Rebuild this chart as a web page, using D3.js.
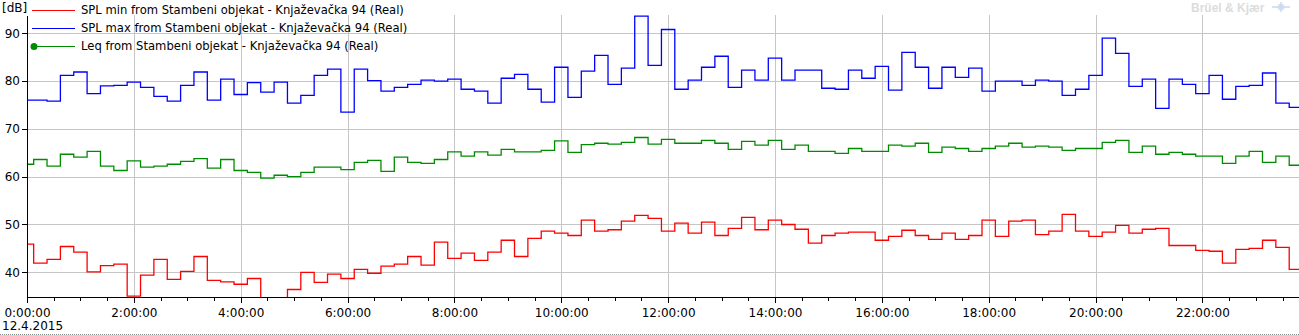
<!DOCTYPE html>
<html lang="sr">
<head>
<meta charset="UTF-8">
<title>Stambeni objekat - Knjaževačka 94</title>
<style>
  body { margin: 0; background: #fff; }
  svg { display: block; font-family: "DejaVu Sans", sans-serif; font-size: 12px; }
</style>
</head>
<body>
<svg id="chart"></svg>
<script src="https://cdn.jsdelivr.net/npm/d3@7/dist/d3.min.js"></script>
<script>
// 15-minutne vrijednosti, 12.4.2015, od 0:00 do 23:45 [dB]
const splMin = [
  45.9, 41.9, 42.7, 45.4, 44.2, 40.1, 41.4, 41.7, 35.0, 39.4,
  42.7, 38.5, 40.2, 43.3, 38.3, 38.0, 37.5, 38.7, 33.8, 33.5,
  36.4, 40.0, 37.9, 39.6, 38.7, 40.6, 39.8, 41.3, 41.7, 43.3,
  41.5, 46.3, 42.9, 44.0, 42.5, 44.2, 46.7, 43.3, 47.1, 48.6,
  48.2, 47.7, 50.9, 48.6, 48.9, 50.7, 51.9, 51.3, 48.6, 50.3,
  48.2, 50.5, 47.7, 49.2, 51.5, 48.9, 50.9, 50.0, 49.0, 46.1,
  47.7, 48.2, 48.4, 48.4, 46.7, 47.5, 48.8, 47.7, 46.9, 48.2,
  46.9, 47.7, 50.9, 47.5, 50.7, 50.9, 47.9, 48.6, 52.1, 48.6,
  47.5, 48.4, 49.8, 48.2, 49.0, 49.2, 45.6, 45.6, 44.6, 44.4,
  41.9, 44.8, 45.0, 46.7, 45.2, 40.6
];
const splMax = [
  76.0, 76.0, 75.8, 81.2, 81.9, 77.4, 79.0, 79.1, 79.8, 78.7,
  76.8, 75.8, 79.1, 81.9, 76.0, 80.4, 77.2, 79.7, 77.7, 79.8,
  75.4, 77.0, 81.2, 82.5, 73.5, 82.5, 80.1, 77.9, 78.7, 79.3,
  80.2, 80.0, 80.4, 78.3, 77.9, 75.4, 80.6, 81.4, 78.3, 75.6,
  82.9, 76.6, 82.1, 85.4, 79.3, 82.7, 93.6, 83.3, 90.8, 78.3,
  80.2, 82.9, 85.2, 78.7, 82.3, 80.2, 84.8, 80.2, 82.3, 82.3,
  78.5, 78.3, 82.3, 80.6, 83.1, 78.1, 86.0, 82.9, 78.5, 82.9,
  80.8, 82.7, 77.9, 80.0, 80.0, 79.1, 80.2, 80.0, 77.0, 78.3,
  81.2, 89.0, 85.8, 78.9, 80.4, 74.3, 80.4, 79.3, 77.4, 81.2,
  76.2, 78.9, 79.1, 81.7, 75.4, 74.5
];
const leq = [
  62.6, 63.6, 62.2, 64.7, 64.1, 65.3, 62.2, 61.3, 63.3, 62.0,
  62.2, 62.6, 63.2, 63.8, 61.8, 63.6, 61.3, 60.9, 59.7, 60.3,
  60.0, 60.9, 62.0, 62.0, 61.5, 63.0, 63.4, 61.1, 64.1, 63.0,
  62.8, 63.6, 65.2, 64.3, 65.2, 64.5, 65.7, 65.2, 65.2, 65.5,
  67.5, 65.1, 66.7, 67.0, 66.8, 67.2, 68.2, 66.8, 67.8, 67.0,
  67.0, 67.6, 67.0, 65.7, 67.4, 66.6, 67.6, 65.7, 66.6, 65.3,
  65.3, 64.9, 65.9, 65.3, 65.3, 66.6, 66.4, 67.0, 65.1, 66.2,
  65.9, 65.3, 65.9, 66.4, 67.0, 66.2, 66.4, 66.2, 65.5, 65.9,
  65.9, 67.2, 67.6, 65.1, 66.4, 64.7, 65.1, 64.7, 64.3, 64.3,
  62.8, 64.3, 65.3, 63.0, 64.3, 62.4
];
const yTicks = [40, 50, 60, 70, 80, 90];
const seriesNames = [
  "SPL min from Stambeni objekat - Knjaževačka 94 (Real)",
  "SPL max from Stambeni objekat - Knjaževačka 94 (Real)",
  "Leq from Stambeni objekat - Knjaževačka 94 (Real)"
];
const seriesColors = ["#ff0000", "#0000ff", "#008c00"];

const W = 1299, H = 335;
const plotLeft = 27, plotRight = 1299, plotTop = 15, plotBottom = 297;

const svg = d3.select("#chart").attr("width", W).attr("height", H);

const times = d3.range(splMin.length).map(i => new Date(2015, 3, 12, 0, i * 15));
const tEnd = new Date(2015, 3, 12, 23, 48, 30);

const x = d3.scaleTime().domain([times[0], tEnd]).range([plotLeft, plotRight]);
const y = d3.scaleLinear().domain([34.83, 93.83]).range([plotBottom, plotTop]);

const crisp = v => Math.round(v) + 0.5;
const majorTicks = d3.timeHour.every(2).range(times[0], tEnd);

// mreža
const grid = svg.append("g").attr("stroke", "#c6c6c6").attr("shape-rendering", "crispEdges");
grid.selectAll("line.h").data(yTicks).enter().append("line")
  .attr("x1", plotLeft).attr("x2", plotRight)
  .attr("y1", d => crisp(y(d))).attr("y2", d => crisp(y(d)));
grid.selectAll("line.v").data(majorTicks.slice(1)).enter().append("line")
  .attr("y1", plotTop).attr("y2", plotBottom)
  .attr("x1", d => crisp(x(d))).attr("x2", d => crisp(x(d)));

// serije
svg.append("clipPath").attr("id", "plot")
  .append("rect").attr("x", plotLeft).attr("y", plotTop)
  .attr("width", plotRight - plotLeft).attr("height", plotBottom - plotTop + 1);

const line = d3.line().x(d => x(d.t)).y(d => y(d.v)).curve(d3.curveStep);
[splMin, splMax, leq].forEach((vals, k) => {
  const pts = vals.map((v, i) => ({ t: times[i], v: v }));
  pts.push({ t: tEnd, v: vals[vals.length - 1] });
  svg.append("path")
    .attr("clip-path", "url(#plot)")
    .attr("fill", "none")
    .attr("stroke", seriesColors[k])
    .attr("stroke-width", 1.3)
    .attr("d", line(pts));
});

// ose
svg.append("g").attr("transform", "translate(0," + plotBottom + ")")
  .attr("shape-rendering", "crispEdges")
  .call(d3.axisBottom(x).tickValues(majorTicks).tickSize(6).tickSizeOuter(0).tickPadding(5)
    .tickFormat(d3.timeFormat("%-H:%M:%S")));
svg.append("g").attr("transform", "translate(0," + plotBottom + ")")
  .attr("shape-rendering", "crispEdges")
  .call(d3.axisBottom(x).ticks(d3.timeMinute.every(30)).tickSize(4).tickFormat(""))
  .select(".domain").remove();

svg.append("g").attr("transform", "translate(" + plotLeft + ",0)")
  .attr("shape-rendering", "crispEdges")
  .call(d3.axisLeft(y).tickValues(yTicks).tickSize(5).tickSizeOuter(0).tickPadding(2));

// d3 stavlja font-size 10 na grupu ose; vrati na font stranice
svg.selectAll("g").attr("font-family", null).attr("font-size", null);
svg.selectAll(".tick text").attr("fill", "#000");

svg.append("text").attr("x", 2).attr("y", 12).text("[dB]");
svg.append("text").attr("x", 2).attr("y", 330).text("12.4.2015");

svg.append("line").attr("x1", 0).attr("x2", W).attr("y1", 334.5).attr("y2", 334.5)
  .attr("stroke", "#888").attr("stroke-dasharray", "1,1");

// legenda
const legend = svg.append("g").selectAll("g").data(seriesNames).enter().append("g")
  .attr("transform", (d, i) => "translate(0," + (10 + i * 18) + ")");
legend.append("line").attr("x1", 32).attr("x2", 75).attr("y1", 0.5).attr("y2", 0.5)
  .attr("stroke", (d, i) => seriesColors[i]).attr("stroke-width", 1.2);
legend.filter((d, i) => i === 2).append("circle")
  .attr("cx", 34).attr("cy", 0.5).attr("r", 3.5).attr("fill", seriesColors[2]);
legend.append("text").attr("x", 81).attr("y", 0).attr("dy", "0.38em")
  .attr("font-size", "11.6px").text(d => d);

// logo
svg.append("text").attr("x", 1191).attr("y", 12)
  .attr("font-family", "Arial, 'Liberation Sans', sans-serif").attr("font-weight", "bold")
  .attr("font-size", 12).attr("fill", "#dcdcdc").text("Brüel & Kjær");
const logo = svg.append("g").attr("transform", "translate(1281,7)")
  .attr("stroke", "#c8daf0").attr("stroke-width", 1.5);
logo.append("circle").attr("r", 3.5).attr("fill", "#d4e3f4").attr("stroke", "none");
logo.append("line").attr("x1", -9).attr("x2", 9);
logo.append("line").attr("y1", -5).attr("y2", 5);
</script>
</body>
</html>
